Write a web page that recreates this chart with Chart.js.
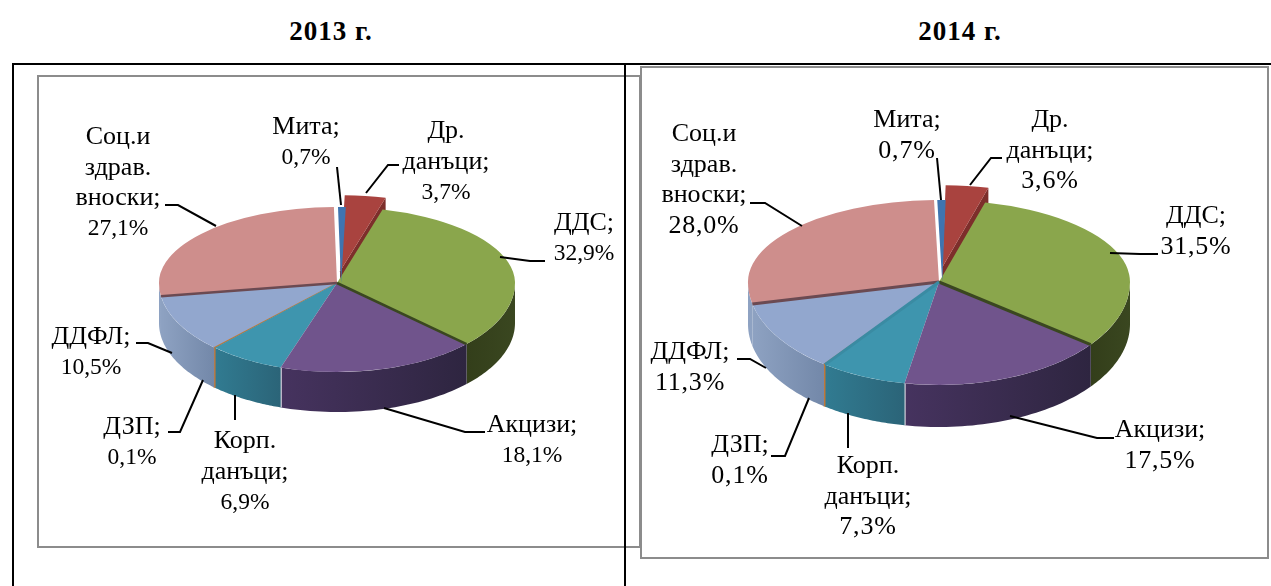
<!DOCTYPE html>
<html lang="bg">
<head>
<meta charset="utf-8">
<title>Данъчни приходи 2013 г. и 2014 г.</title>
<script src="https://cdn.jsdelivr.net/npm/chart.js@4"></script>
<style>
  html, body { margin: 0; padding: 0; background: #fff; overflow: hidden; }
  body { position: relative; width: 1271px; height: 586px; font-family: "Liberation Serif", serif; }
  canvas { position: absolute; left: 0; top: 0; }
  .title { position: absolute; top: 16px; width: 200px; text-align: center; font-weight: bold; font-size: 27px; letter-spacing: 1px; line-height: 30px; color: #000; }
  .rule { position: absolute; background: #000; }
  .frame { position: absolute; box-sizing: border-box; border: 2px solid #8c8c8c; }
</style>
</head>
<body>
<div class="title" style="left:231px">2013 г.</div>
<div class="title" style="left:860px">2014 г.</div>
<div class="frame" style="left:37px;top:75px;width:604px;height:473px"></div>
<div class="frame" style="left:640px;top:66px;width:629px;height:493px;background:#fff"></div>
<div class="rule" style="left:12px;top:63px;width:1259px;height:2px"></div>
<div class="rule" style="left:12px;top:63px;width:2px;height:523px"></div>
<div class="rule" style="left:624px;top:63px;width:2px;height:523px"></div>
<canvas id="pie2013" width="1271" height="586"></canvas>
<canvas id="pie2014" width="1271" height="586"></canvas>

<script>
/* ---- data ---- */
const categories = ['Мита', 'Др.\nданъци', 'ДДС', 'Акцизи', 'Корп.\nданъци', 'ДЗП', 'ДДФЛ', 'Соц.и\nздрав.\nвноски'];
const values2013 = [0.7, 3.7, 32.9, 18.1, 6.9, 0.1, 10.5, 27.1];
const values2014 = [0.7, 3.6, 31.5, 17.5, 7.3, 0.1, 11.3, 28.0];

/* ---- slice styling ---- */
const topColors = ['#3f74b0', '#a9433f', '#8aa64c', '#70548c', '#3e95ae', '#c07838', '#92a7ce', '#ce8e8c'];
const wallRight = ['#3f74b0', '#7d2e2b', '#3a4720', '#2e2540', '#2b6478', '#c07838', '#7388a9', '#8ea2c2'];
const wallLeft = ['#3f74b0', '#7d2e2b', '#333e1a', '#46335f', '#317b91', '#c07838', '#8ea2c2', '#8ea2c2'];
const borderWidths = [0, 0, 0, 0, 0, 2, 0, 0];

/* ---- layout of each picture (label centres and leader lines follow the order of categories) ---- */
const layout2013 = {
  cx: 337, cy: 283, rx: 178, ryTop: 76, ryBot: 89, depth: 40, rotation: -1,
  numFont: '23.5px "Liberation Serif", serif', numSpacing: '0px',
  shift: [[0.023, 0], [0.017, -0.155], [0, 0], [0, 0], [0, 0], [0, 0], [0, 0], [0, 0]],
  labels: [[306, 127], [446, 131], [584, 223], [532, 425], [245, 441], [132, 427], [91, 337], [118, 137]],
  leaders: [
    [[337, 167], [341, 205]],
    [[399, 165], [388, 165], [366, 193]],
    [[545, 261], [530, 261], [500, 257]],
    [[485, 432], [465, 432], [384, 408]],
    [[235, 420], [235, 395]],
    [[168, 432], [180, 432], [203, 380]],
    [[136, 343], [148, 343], [172, 353]],
    [[165, 205], [178, 205], [216, 226]],
  ],
  edges: [[2, 'end', '#3a4720', 2.5], [7, 'start', '#6b4a52', 2.5]],
};
const layout2014 = {
  cx: 939, cy: 282, rx: 191, ryTop: 82, ryBot: 103, depth: 42, rotation: -1.5,
  numFont: '26px "Liberation Serif", serif', numSpacing: '0.8px',
  shift: [[0.017, 0], [0.017, -0.18], [0, 0], [0, 0], [0, 0], [0, 0], [0, 0], [0, 0]],
  labels: [[907, 120], [1050, 120], [1196, 216], [1160, 430], [868, 466], [740, 445], [690, 352], [704, 134]],
  leaders: [
    [[937, 158], [941, 200]],
    [[1002, 158], [991, 158], [970, 185]],
    [[1158, 254], [1140, 254], [1110, 253]],
    [[1114, 438], [1097, 438], [1010, 416]],
    [[848, 448], [848, 413]],
    [[771, 456], [785, 456], [809, 398]],
    [[737, 359], [750, 359], [766, 368]],
    [[750, 203], [765, 203], [802, 226]],
  ],
  edges: [[2, 'end', '#3a4720', 3], [7, 'start', '#6b4a52', 3], [4, 'end', '#3a8ba3', 3]],
};

const fontWord = '26px "Liberation Serif", serif';

// position on the flattened pie, f = share of the radius
function project(geo, i, angle, f) {
  const u = Math.cos(angle) * f + geo.shift[i][0];
  const v = Math.sin(angle) * f + geo.shift[i][1];
  return { x: geo.cx + geo.rx * u, y: geo.cy + (v < 0 ? geo.ryTop : geo.ryBot) * v };
}

function fillPoly(ctx, pts, fill) {
  ctx.beginPath();
  pts.forEach((p, i) => (i ? ctx.lineTo(p.x, p.y) : ctx.moveTo(p.x, p.y)));
  ctx.closePath();
  ctx.fillStyle = fill;
  ctx.fill();
}

function drawWalls(ctx, geo, arcs) {
  arcs.forEach((el, i) => {
    // cut face of the pulled slice
    if (geo.shift[i][1] < 0 && i === 1) {
      const a = project(geo, i, el.endAngle, 0);
      const b = project(geo, i, el.endAngle, 1);
      fillPoly(ctx, [a, b, { x: b.x, y: b.y + geo.depth }, { x: a.x, y: a.y + geo.depth }], wallRight[i]);
    }
    // outer wall, only the front half of the rim shows
    const from = Math.max(el.startAngle, 0);
    const to = Math.min(el.endAngle, Math.PI);
    if (to <= from) return;
    const rim = [];
    for (let k = 0; k <= 40; k++) rim.push(project(geo, i, from + (to - from) * k / 40, 1));
    const grad = ctx.createLinearGradient(rim[0].x, 0, rim[40].x, 0);
    grad.addColorStop(0, wallRight[i]);
    grad.addColorStop(1, wallLeft[i]);
    const low = rim.slice().reverse().map(p => ({ x: p.x, y: p.y + geo.depth }));
    fillPoly(ctx, rim.concat(low), grad);
    if (i === 5 || i === 3) {
      const p = rim[i === 5 ? 20 : 40];
      ctx.strokeStyle = i === 5 ? topColors[5] : '#f0f0f4';
      ctx.lineWidth = 2;
      ctx.beginPath();
      ctx.moveTo(p.x, p.y);
      ctx.lineTo(p.x, p.y + geo.depth);
      ctx.stroke();
    }
  });
}

// the library draws each arc twice: far half and near half get a different squash
function drawTops(ctx, geo, arcs) {
  const R = arcs[0].outerRadius, ax = arcs[0].x, ay = arcs[0].y;
  [[0, geo.cy, geo.ryTop], [geo.cy, 586 - geo.cy, geo.ryBot]].forEach(([y, h, ry]) => {
    ctx.save();
    ctx.beginPath();
    ctx.rect(0, y, 1271, h);
    ctx.clip();
    ctx.translate(geo.cx, geo.cy);
    ctx.scale(geo.rx / R, ry / R);
    ctx.translate(-ax, -ay);
    for (let i = arcs.length - 1; i >= 0; i--) {
      ctx.save();
      ctx.translate(geo.shift[i][0] * R, geo.shift[i][1] * R);
      arcs[i].draw(ctx);
      ctx.restore();
    }
    ctx.restore();
  });
}

function drawLabels(ctx, geo, values) {
  ctx.textAlign = 'center';
  ctx.textBaseline = 'middle';
  ctx.fillStyle = '#000';
  categories.forEach((name, i) => {
    const [x, y] = geo.labels[i];
    const lines = name.split('\n');
    lines[lines.length - 1] += ';';
    ctx.font = fontWord;
    lines.forEach((line, k) => ctx.fillText(line, x, y + k * 30.7));
    ctx.font = geo.numFont;
    ctx.letterSpacing = geo.numSpacing;
    ctx.fillText(values[i].toFixed(1).replace('.', ',') + '%', x, y + lines.length * 30.7);
    ctx.letterSpacing = '0px';
  });
  ctx.strokeStyle = '#000';
  ctx.lineWidth = 2;
  geo.leaders.forEach(pts => {
    ctx.beginPath();
    pts.forEach((p, i) => (i ? ctx.lineTo(p[0], p[1]) : ctx.moveTo(p[0], p[1])));
    ctx.stroke();
  });
}

const pie3d = {
  id: 'pie3d',
  beforeDatasetDraw(chart, args, opts) {
    const ctx = chart.ctx, geo = opts.geo, arcs = chart.getDatasetMeta(0).data;
    ctx.save();
    drawWalls(ctx, geo, arcs);
    drawTops(ctx, geo, arcs);
    geo.edges.forEach(([i, side, color, w]) => {
      const a = side === 'end' ? arcs[i].endAngle : arcs[i].startAngle;
      const p0 = project(geo, i, a, 0), p1 = project(geo, i, a, 1);
      ctx.strokeStyle = color;
      ctx.lineWidth = w;
      ctx.beginPath();
      ctx.moveTo(p0.x, p0.y);
      ctx.lineTo(p1.x, p1.y);
      ctx.stroke();
    });
    drawLabels(ctx, geo, chart.data.datasets[0].data);
    ctx.restore();
    return false;
  },
};

function makePie(id, values, geo) {
  return new Chart(document.getElementById(id), {
    type: 'pie',
    data: {
      labels: categories.map(c => c.replace(/\n/g, ' ')),
      datasets: [{
        data: values,
        backgroundColor: topColors,
        borderColor: topColors,
        borderWidth: borderWidths,
      }],
    },
    options: {
      responsive: false,
      animation: false,
      events: [],
      rotation: geo.rotation,
      plugins: { legend: { display: false }, tooltip: { enabled: false }, pie3d: { geo } },
    },
    plugins: [pie3d],
  });
}

makePie('pie2013', values2013, layout2013);
makePie('pie2014', values2014, layout2014);
</script>
</body>
</html>
